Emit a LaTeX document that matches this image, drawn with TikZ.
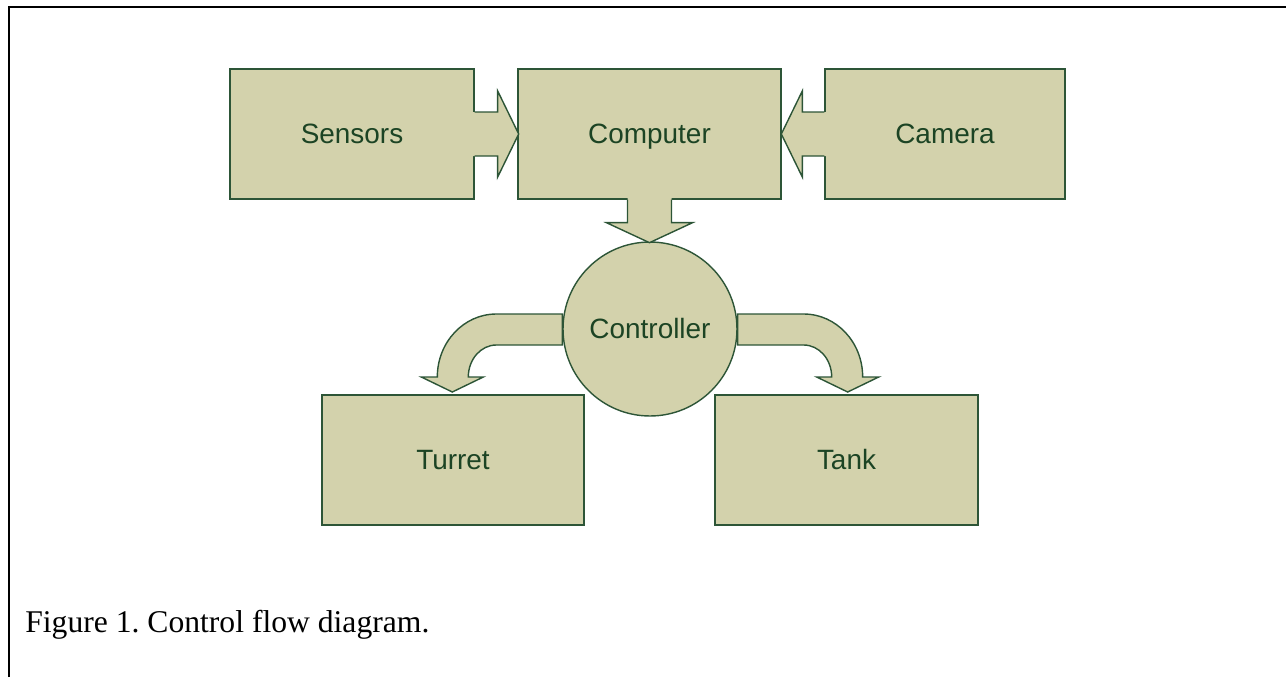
\documentclass[tikz,border=0pt]{standalone}
\usepackage{fontspec}
\setmainfont{Liberation Serif}
\newfontfamily\blockfont{Liberation Sans}
\definecolor{blockfill}{RGB}{211,210,172}
\definecolor{blockline}{RGB}{45,85,55}
\definecolor{blocktext}{RGB}{28,68,36}

\begin{document}
\begin{tikzpicture}[x=0.02cm,y=-0.02cm,
  block/.style={draw=blockline,fill=blockfill,line width=0.8pt,inner sep=0pt,
    minimum height=2.6cm,text=blocktext,text height=11pt,text depth=0.4pt,
    font=\blockfont\fontsize{15.9}{18}\selectfont},
  outline/.style={draw=blockline,line width=0.8pt}]
\useasboundingbox (0,0) rectangle (1286,677);
% page frame
\draw[line width=1.7pt] (9,677) -- (9,7) -- (1286,7);

% boxes
\node[block,minimum width=4.88cm] (sensors) at (352,134) {Sensors};
\node[block,minimum width=5.26cm] (computer) at (649.5,134) {Computer};
\node[block,minimum width=4.8cm] (camera) at (945,134) {Camera};
\node[block,minimum width=5.24cm] (turret) at (453,460) {Turret};
\node[block,minimum width=5.26cm] (tank) at (846.5,460) {Tank};
\node[block,circle,minimum size=3.48cm] (controller) at (650,329) {Controller};

% sensors -> computer
\begin{scope}[shift={(sensors.east)}]
\fill[blockfill] (-1.5,-22) -- (23,-22) -- (23,-43) -- (44,0) -- (23,43) -- (23,22) -- (-1.5,22) -- cycle;
\draw[outline] (0,-22) -- (23,-22) -- (23,-43) -- (44,0) -- (23,43) -- (23,22) -- (0,22);
\end{scope}

% camera -> computer
\begin{scope}[shift={(camera.west)}]
\fill[blockfill] (1.5,-22) -- (-22,-22) -- (-22,-43) -- (-43,0) -- (-22,43) -- (-22,22) -- (1.5,22) -- cycle;
\draw[outline] (0,-22) -- (-22,-22) -- (-22,-43) -- (-43,0) -- (-22,43) -- (-22,22) -- (0,22);
\end{scope}

% computer -> controller
\begin{scope}[shift={(computer.south)}]
\fill[blockfill] (-22,-1.5) -- (-22,23) -- (-43,23) -- (0,43) -- (43,23) -- (22,23) -- (22,-1.5) -- cycle;
\draw[outline] (-22,0) -- (-22,23) -- (-43,23) -- (0,43) -- (43,23) -- (22,23) -- (22,0);
\end{scope}

% controller -> turret (y axis points down, so angles run clockwise)
\begin{scope}[shift={(controller.west)}]
\filldraw[outline,fill=blockfill] (0,-15) -- (-66,-15) arc (270:180:59 and 63)
  -- (-141,48) -- (-110,63) -- (-79,48) -- (-94,48) arc (180:270:28 and 32)
  -- (0,16) -- cycle;
\end{scope}

% controller -> tank
\begin{scope}[shift={(controller.east)}]
\filldraw[outline,fill=blockfill] (0,-15) -- (66,-15) arc (270:360:59 and 63)
  -- (141,48) -- (110,63) -- (79,48) -- (94,48) arc (360:270:28 and 32)
  -- (0,16) -- cycle;
\end{scope}

% caption
\node[anchor=base west,inner sep=0pt,font=\fontsize{18}{21}\selectfont] (caption) at (25,632)
  {\frenchspacing Figure 1. Control flow diagram.};
\end{tikzpicture}
\end{document}
